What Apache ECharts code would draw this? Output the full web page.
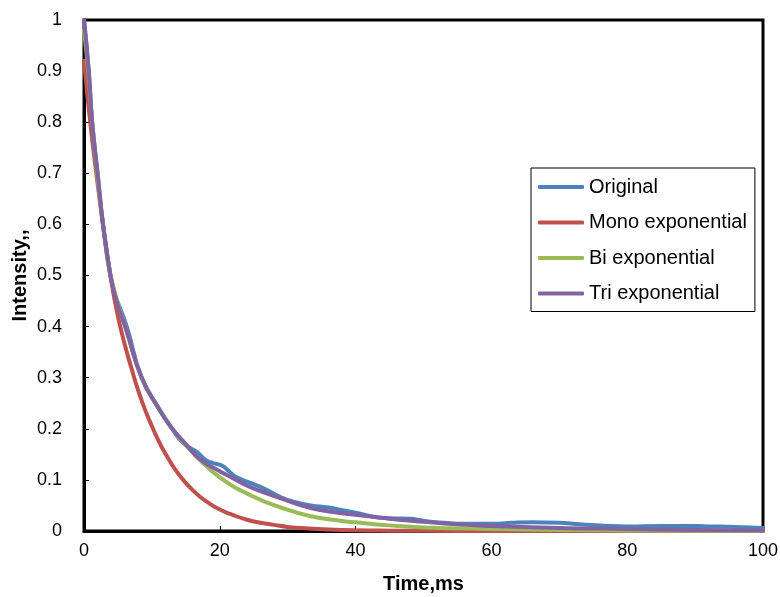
<!DOCTYPE html>
<html>
<head>
<meta charset="utf-8">
<script src="https://cdn.jsdelivr.net/npm/echarts@6/dist/echarts.min.js"></script>
<style>html,body{margin:0;padding:0;background:#fff}#c{width:780px;height:597px}</style>
</head>
<body>
<div id="c"></div>
<script>
var seriesNames = ['Original', 'Mono exponential', 'Bi exponential', 'Tri exponential'];
var xTicks = [0, 20, 40, 60, 80, 100];
var yTicks = [0, 0.1, 0.2, 0.3, 0.4, 0.5, 0.6, 0.7, 0.8, 0.9, 1];

var tOriginal = [0, 0.7, 1.2, 2, 2.8, 3.9, 4.6, 5.2, 6.3, 8.5, 11, 13, 14.6, 16.6, 18, 19, 20.3, 21.5, 22.5, 24.5, 26.5, 29, 31, 33.4, 36, 38.3, 41, 43, 45, 48, 50, 53, 56, 60, 63, 66, 70, 73, 77, 80, 85, 88, 92, 96, 100];
var vOriginal = [1.0, 0.9, 0.8, 0.7, 0.6, 0.5, 0.46, 0.44, 0.4, 0.3, 0.24, 0.2, 0.172, 0.155, 0.138, 0.133, 0.128, 0.115, 0.105, 0.094, 0.083, 0.066, 0.057, 0.05, 0.046, 0.04, 0.033, 0.027, 0.025, 0.024, 0.02, 0.016, 0.014, 0.014, 0.016, 0.017, 0.016, 0.013, 0.01, 0.009, 0.01, 0.01, 0.009, 0.008, 0.006];

var tMono = [0, 1, 2, 3, 4, 5, 6, 7, 8, 9, 10, 11, 12, 13, 14, 15, 16, 17, 18, 20, 22, 24, 26, 28, 30, 33, 36, 40, 45, 50, 60, 100];
var vMono = [0.92, 0.79, 0.68, 0.58, 0.49, 0.42, 0.365, 0.318, 0.274, 0.237, 0.205, 0.176, 0.151, 0.129, 0.11, 0.094, 0.08, 0.068, 0.058, 0.042, 0.031, 0.022, 0.016, 0.012, 0.008, 0.005, 0.003, 0.0015, 0.0007, 0.0003, 0, 0];

var tBi = [0, 0.7, 1.2, 2, 2.8, 3.9, 6.3, 8.5, 11, 13, 14.2, 17, 20, 24.5, 29, 33.4, 38.3, 40, 45, 50, 60, 70, 80, 100];
var vBi = [0.98, 0.89, 0.8, 0.69, 0.6, 0.5, 0.39, 0.3, 0.24, 0.2, 0.18, 0.14, 0.105, 0.07, 0.046, 0.029, 0.019, 0.017, 0.011, 0.007, 0.004, 0.002, 0.001, 0];

var tTri = [0, 0.7, 1.2, 2, 2.8, 3.9, 4.8, 6.3, 8.5, 11, 13, 15, 17.1, 19.6, 22, 24.5, 29, 33.4, 38.3, 40, 45, 50, 55, 60, 70, 80, 90, 100];
var vTri = [1.0, 0.9, 0.8, 0.7, 0.6, 0.5, 0.45, 0.39, 0.3, 0.24, 0.2, 0.17, 0.14, 0.12, 0.103, 0.086, 0.064, 0.045, 0.034, 0.032, 0.024, 0.018, 0.013, 0.01, 0.006, 0.004, 0.002, 0.001];

var colors = ['#4F81BD', '#C0504D', '#9BBB59', '#8064A2'];

function pairs(t, v) { return t.map(function (x, i) { return [x, v[i]]; }); }
var allData = [pairs(tOriginal, vOriginal), pairs(tMono, vMono), pairs(tBi, vBi), pairs(tTri, vTri)];

var chart = echarts.init(document.getElementById('c'));
var font = 'Liberation Sans, Arial, sans-serif';
chart.setOption({
  animation: false,
  backgroundColor: '#fff',
  grid: { left: 84, right: 17, top: 20, bottom: 66, show: true, borderColor: '#000', borderWidth: 3, containLabel: false, outerBoundsMode: 'none' },
  legend: {
    orient: 'vertical',
    left: 531, top: 168,
    padding: [9, 8, 8, 7],
    itemGap: 15.5,
    itemWidth: 46, itemHeight: 4,
    icon: 'roundRect',
    borderColor: '#000', borderWidth: 1,
    textStyle: { fontFamily: font, fontSize: 20, color: '#000' },
    data: seriesNames
  },
  xAxis: {
    type: 'value', min: 0, max: 100, interval: 20,
    name: 'Time,ms', nameLocation: 'middle', nameGap: 43,
    nameTextStyle: { fontFamily: font, fontSize: 20, fontWeight: 'bold', color: '#000' },
    axisLine: { show: true, lineStyle: { color: '#000', width: 3 } },
    axisTick: { show: true, inside: true, length: 5, lineStyle: { color: '#000', width: 1 } },
    axisLabel: { fontFamily: font, fontSize: 18, color: '#000', margin: 11 },
    splitLine: { show: false }
  },
  yAxis: {
    type: 'value', min: 0, max: 1, interval: 0.1,
    name: 'Intensity,,', nameLocation: 'middle', nameGap: 54, nameRotate: 90,
    nameMoveOverlap: false,
    nameTextStyle: { fontFamily: font, fontSize: 20, fontWeight: 'bold', color: '#000' },
    axisLine: { show: true, lineStyle: { color: '#000', width: 3 } },
    axisTick: { show: true, inside: true, length: 5, lineStyle: { color: '#000', width: 1 } },
    axisLabel: { fontFamily: font, fontSize: 18, color: '#000', margin: 22 },
    splitLine: { show: false }
  },
  series: seriesNames.map(function (n, i) {
    return {
      name: n, type: 'line', data: allData[i], smooth: 0.5, symbol: 'none',
      color: colors[i],
      lineStyle: { width: 4, color: colors[i], cap: 'round', join: 'round' },
      z: 2 + i
    };
  })
});
</script>
</body>
</html>
